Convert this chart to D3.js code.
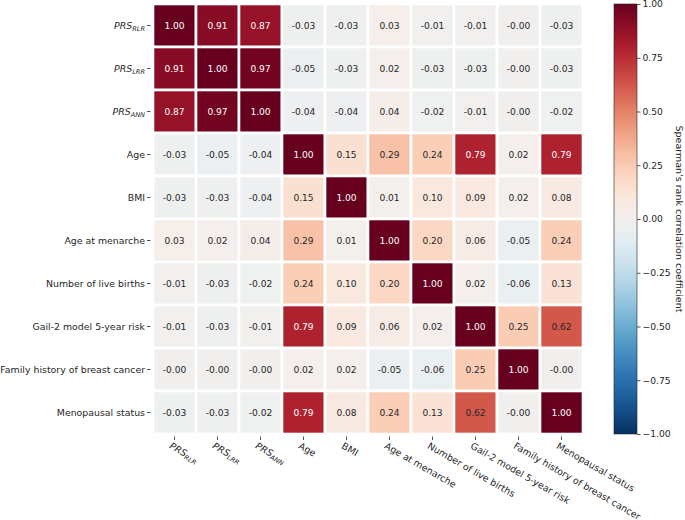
<!DOCTYPE html>
<html>
<head>
<meta charset="utf-8">
<script src="https://cdn.jsdelivr.net/npm/d3@7"></script>
<style>
  body { margin: 0; background: #fff; }
  text { font-family: "DejaVu Sans", sans-serif; }
</style>
</head>
<body>
<svg id="canvas" width="685" height="520"></svg>
<script>
// variable labels (sub = subscript part, italic for the PRS ones)
let labels = [
  {main: 'PRS', sub: 'RLR'},
  {main: 'PRS', sub: 'LRR'},
  {main: 'PRS', sub: 'ANN'},
  {main: 'Age'},
  {main: 'BMI'},
  {main: 'Age at menarche'},
  {main: 'Number of live births'},
  {main: 'Gail-2 model 5-year risk'},
  {main: 'Family history of breast cancer'},
  {main: 'Menopausal status'}
]

// spearman correlations, row by row
let rowPRSRLR = [1.00, 0.91, 0.87, -0.03, -0.03, 0.03, -0.01, -0.01, -0.004, -0.03]
let rowPRSLRR = [0.91, 1.00, 0.97, -0.05, -0.03, 0.02, -0.03, -0.03, -0.004, -0.03]
let rowPRSANN = [0.87, 0.97, 1.00, -0.04, -0.04, 0.04, -0.02, -0.01, -0.004, -0.02]
let rowAge = [-0.03, -0.05, -0.04, 1.00, 0.15, 0.29, 0.24, 0.79, 0.02, 0.79]
let rowBMI = [-0.03, -0.03, -0.04, 0.15, 1.00, 0.01, 0.10, 0.09, 0.02, 0.08]
let rowMenarche = [0.03, 0.02, 0.04, 0.29, 0.01, 1.00, 0.20, 0.06, -0.05, 0.24]
let rowBirths = [-0.01, -0.03, -0.02, 0.24, 0.10, 0.20, 1.00, 0.02, -0.06, 0.13]
let rowGail = [-0.01, -0.03, -0.01, 0.79, 0.09, 0.06, 0.02, 1.00, 0.25, 0.62]
let rowFamily = [-0.004, -0.004, -0.004, 0.02, 0.02, -0.05, -0.06, 0.25, 1.00, -0.004]
let rowMeno = [-0.03, -0.03, -0.02, 0.79, 0.08, 0.24, 0.13, 0.62, -0.004, 1.00]

let matrix = [rowPRSRLR, rowPRSLRR, rowPRSANN, rowAge, rowBMI, rowMenarche, rowBirths, rowGail, rowFamily, rowMeno]

let colorTicks = [1.00, 0.75, 0.50, 0.25, 0.00, -0.25, -0.50, -0.75, -1.00]
let colorLabel = "Spearman's rank correlation coefficient"

let svg = d3.select('#canvas')

let plotLeft = 153, plotTop = 4, size = 430

let idx = d3.range(labels.length)
let xScale = d3.scaleBand().domain(idx).range([plotLeft, plotLeft + size])
let yScale = d3.scaleBand().domain(idx).range([plotTop, plotTop + size])

let color = d3.scaleSequential((t) => d3.interpolateRdBu(1 - t)).domain([-1, 1])

let cells = []
matrix.forEach((row, i) => {
  row.forEach((v, j) => {
    cells.push({row: i, col: j, value: v})
  })
})

// keep the sign on small negatives, like "-0.00", with a plain hyphen
let fmt = (v) => (v < 0 ? '-' : '') + d3.format('.2f')(Math.abs(v))

let textColor = (v) => {
  let c = d3.rgb(color(v))
  let lum = (0.299 * c.r + 0.587 * c.g + 0.114 * c.b) / 255
  return lum < 0.45 ? '#ffffff' : '#262626'
}

let block = svg.append('g').selectAll('g')
  .data(cells)
  .enter()
  .append('g')

block.append('rect')
  .attr('x', (d) => xScale(d.col))
  .attr('y', (d) => yScale(d.row))
  .attr('width', xScale.bandwidth())
  .attr('height', yScale.bandwidth())
  .attr('fill', (d) => color(d.value))
  .attr('stroke', '#ffffff')
  .attr('stroke-width', 2.6)

block.append('text')
  .attr('x', (d) => xScale(d.col) + xScale.bandwidth() / 2)
  .attr('y', (d) => yScale(d.row) + yScale.bandwidth() / 2)
  .attr('dy', '0.35em')
  .attr('text-anchor', 'middle')
  .attr('font-size', 9.1)
  .attr('fill', (d) => textColor(d.value))
  .text((d) => fmt(d.value))

let addLabel = (sel, lab) => {
  if (lab.sub) {
    sel.append('tspan').attr('font-style', 'italic').text(lab.main)
    sel.append('tspan').attr('font-style', 'italic').attr('font-size', '0.7em')
      .attr('dy', '0.3em').text(lab.sub)
  } else {
    sel.text(lab.main)
  }
}

// y axis
let yAxis = svg.append('g')
idx.forEach((i) => {
  let cy = yScale(i) + yScale.bandwidth() / 2
  yAxis.append('line')
    .attr('x1', plotLeft - 6).attr('x2', plotLeft - 2.5)
    .attr('y1', cy).attr('y2', cy)
    .attr('stroke', '#262626').attr('stroke-width', 0.8)
  let t = yAxis.append('text')
    .attr('x', plotLeft - 8).attr('y', cy).attr('dy', '0.35em')
    .attr('text-anchor', 'end')
    .attr('font-size', 9.4)
    .attr('fill', '#262626')
  addLabel(t, labels[i])
})

// x axis
let xAxis = svg.append('g')
idx.forEach((i) => {
  let cx = xScale(i) + xScale.bandwidth() / 2
  xAxis.append('line')
    .attr('x1', cx).attr('x2', cx)
    .attr('y1', plotTop + size + 2.5).attr('y2', plotTop + size + 6)
    .attr('stroke', '#262626').attr('stroke-width', 0.8)
  let t = xAxis.append('text')
    .attr('transform', 'translate(' + (cx - 4) + ',' + (plotTop + size + 11) + ') rotate(30)')
    .attr('dy', '0.35em')
    .attr('text-anchor', 'start')
    .attr('font-size', 9.4)
    .attr('fill', '#262626')
  addLabel(t, labels[i])
})

// colorbar
let cbX = 614, cbW = 23
let cbScale = d3.scaleLinear().domain([-1, 1]).range([plotTop + size, plotTop])

let defs = svg.append('defs')
let grad = defs.append('linearGradient')
  .attr('id', 'cbgrad')
  .attr('x1', 0).attr('y1', 1).attr('x2', 0).attr('y2', 0)
d3.range(0, 1.0001, 0.05).forEach((t) => {
  grad.append('stop')
    .attr('offset', t)
    .attr('stop-color', color(-1 + 2 * t))
})

svg.append('rect')
  .attr('x', cbX).attr('y', plotTop)
  .attr('width', cbW).attr('height', size)
  .attr('fill', 'url(#cbgrad)')
  .attr('stroke', '#262626').attr('stroke-width', 0.6)

let cbAxis = d3.axisRight(cbScale)
  .tickValues(colorTicks)
  .tickFormat((v) => d3.format('.2f')(v))
  .tickSize(3.5)

let cbG = svg.append('g')
  .attr('transform', 'translate(' + (cbX + cbW) + ',0)')
  .call(cbAxis)
cbG.select('.domain').remove()
cbG.selectAll('line').attr('stroke', '#262626').attr('stroke-width', 0.8)
cbG.selectAll('text')
  .attr('font-size', 9.2)
  .attr('font-family', '"DejaVu Sans", sans-serif')
  .attr('fill', '#262626')
  .attr('x', 5.5)

svg.append('text')
  .attr('transform', 'translate(676,' + (plotTop + size / 2) + ') rotate(90)')
  .attr('text-anchor', 'middle')
  .attr('font-size', 9.5)
  .attr('fill', '#262626')
  .text(colorLabel)
</script>
</body>
</html>
